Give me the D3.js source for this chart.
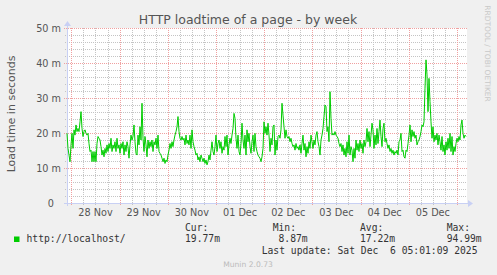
<!DOCTYPE html>
<html>
<head>
<meta charset="utf-8">
<script src="https://cdn.jsdelivr.net/npm/d3@7"></script>
<style>
  body { margin: 0; background: #f0f0f0; }
  svg { display: block; font-family: "DejaVu Sans", sans-serif; }
  .mono { font-family: "DejaVu Sans Mono", monospace; white-space: pre; }
</style>
</head>
<body>
<svg id="chart" width="497" height="275"></svg>
<script>
// ---- data ----
const dayLabels = ["28 Nov", "29 Nov", "30 Nov", "01 Dec", "02 Dec", "03 Dec", "04 Dec", "05 Dec"];
const yTickValues = [0, 10, 20, 30, 40, 50];
const yTickLabels = ["0", "10 m", "20 m", "30 m", "40 m", "50 m"];
const legendHeaders = ["Cur:", "Min:", "Avg:", "Max:"];
const legendValues = ["19.77m", " 8.87m", "17.22m", "94.99m"];
const seriesName = "http://localhost/";
const lastUpdate = "Last update: Sat Dec  6 05:01:09 2025";

// load time in milliseconds-of-a-second ("m"), one value per 30 min
const loadtime = [
  19.9,15.6,13.7,11.8,16.6,19.9,15.6,20.9,19.4,22.3,20.4,21.3,20.4,23.2,26.1,21.3,19.0,20.4,20.9,19.9,
  19.4,19.9,17.0,14.7,15.1,11.8,14.7,11.8,14.7,11.8,17.0,19.0,18.5,18.0,16.1,13.7,15.1,13.2,15.6,14.2,
  16.6,14.7,17.0,15.6,18.5,14.7,16.6,15.6,17.5,14.7,18.5,15.6,16.6,14.2,17.0,15.6,17.5,13.7,16.6,14.7,
  17.5,16.1,12.8,16.6,19.4,18.0,19.0,
  22.3,17.5,14.2,13.7,19.4,16.6,21.8,18.0,28.5,18.5,14.7,19.0,16.6,13.2,18.0,15.6,17.5,16.1,18.0,14.7,
  17.5,16.6,18.5,15.6,19.4,14.7,14.2,13.7,12.8,11.8,12.8,11.3,12.3,11.8,13.7,15.1,17.0,15.6,17.5,16.1,
  18.0,19.4,20.4,21.8,24.7,20.4,18.5,18.0,19.0,18.0,18.5,16.6,19.4,17.0,18.0,16.6,19.4,15.6,20.9,17.5,
  16.1,15.1,13.7,14.2,12.3,13.2,11.8,
  13.7,12.8,11.8,12.8,11.3,12.3,10.9,11.8,13.7,12.3,15.1,17.5,14.7,13.7,16.1,19.4,14.7,17.0,18.0,15.6,
  17.5,14.2,16.1,15.1,19.0,16.1,19.4,13.7,16.6,18.5,17.0,19.4,21.3,25.6,24.2,18.5,15.6,19.4,14.7,13.7,
  17.0,22.8,18.0,15.6,19.4,13.7,20.9,17.5,19.9,16.1,14.2,17.5,19.4,14.7,19.9,16.1,14.7,13.7,13.2,12.8,
  11.8,13.2,15.6,23.2,19.9,21.8,19.4,
  22.8,19.4,14.7,18.5,16.6,21.8,22.3,13.7,18.0,15.1,19.0,19.4,18.5,20.9,28.5,25.1,21.8,18.5,20.9,19.0,
  18.5,19.0,17.5,18.5,17.0,16.1,16.6,15.1,17.0,15.6,16.1,15.1,16.6,14.2,17.0,19.4,15.1,17.0,13.2,16.1,
  14.2,17.5,15.6,19.4,17.5,15.6,18.0,16.6,19.4,20.4,17.5,16.1,13.7,18.0,19.4,21.3,24.7,28.0,27.5,20.4,
  21.8,17.5,31.8,24.2,19.4,19.9,19.4,
  20.4,19.4,19.0,18.5,17.0,16.1,17.0,14.7,16.6,13.7,15.6,13.2,17.5,14.2,19.4,13.7,16.1,15.1,11.8,15.6,
  12.8,18.0,15.1,17.0,14.7,18.0,15.6,17.0,14.2,18.0,16.1,17.5,21.3,17.5,20.4,16.1,19.4,22.8,20.9,15.6,
  19.4,16.6,21.3,17.0,20.4,23.7,19.0,16.1,21.3,22.8,17.5,18.5,17.0,15.6,16.6,14.7,15.6,14.2,15.1,13.7,
  14.7,14.2,15.1,13.7,17.5,18.0,19.9,
  14.7,15.1,13.2,12.8,15.1,14.7,17.0,19.4,22.3,17.5,20.9,19.0,20.4,18.5,19.4,16.6,17.5,18.0,19.0,20.4,
  22.3,21.8,23.2,32.8,40.9,36.6,26.1,35.6,29.0,23.2,18.5,21.8,17.5,19.4,18.0,19.9,16.6,19.4,17.5,15.1,
  19.0,14.7,16.6,13.7,17.5,15.1,18.5,15.6,19.9,14.7,19.0,13.7,16.1,14.7,17.0,18.5,17.5,19.0,18.0,22.3,
  23.7,19.9,18.5,19.4,19.0
];

// ---- layout ----
const plot = { left: 67, right: 467, top: 28, bottom: 203 };
const textColor = "#555";
const legendColor = "#333";
const axisColor = "#c8d0f4";
const minorColor = "#c4c4c4";
const majorColor = "#f0a0a0";

const endTime = new Date(2025, 11, 6, 5, 1, 9);
const spanMs = 199.2 * 3600 * 1000;
const startTime = new Date(endTime - spanMs);
const step = spanMs / 400;
const points = loadtime.map((v, i) => ({ t: new Date(+startTime + i * step), v }));

const x = d3.scaleTime().domain([startTime, endTime]).range([plot.left, plot.right]);
const y = d3.scaleLinear().domain([0, 50]).range([plot.bottom, plot.top]);
const px = (v) => Math.round(v) + 0.5;

const svg = d3.select("#chart");

svg.append("rect")
  .attr("x", plot.left).attr("y", plot.top)
  .attr("width", plot.right - plot.left).attr("height", plot.bottom - plot.top)
  .attr("fill", "#fff");

const grid = svg.append("g").attr("shape-rendering", "crispEdges");

// minor grid
const sixHours = d3.timeHour.every(6).range(startTime, endTime).filter((d) => d.getHours() !== 0);
grid.selectAll(".vminor").data(sixHours).enter().append("line")
  .attr("x1", (d) => px(x(d))).attr("x2", (d) => px(x(d)))
  .attr("y1", plot.top).attr("y2", plot.bottom + 2)
  .attr("stroke", minorColor).attr("stroke-dasharray", "1,1");
const yMinor = d3.range(2, 50, 2).filter((d) => d % 10 !== 0);
grid.selectAll(".hminor").data(yMinor).enter().append("line")
  .attr("x1", plot.left - 2).attr("x2", plot.right)
  .attr("y1", (d) => px(y(d))).attr("y2", (d) => px(y(d)))
  .attr("stroke", minorColor).attr("stroke-dasharray", "1,1");

// major grid
const days = d3.timeDay.range(startTime, endTime);
grid.selectAll(".vmajor").data(days).enter().append("line")
  .attr("x1", (d) => px(x(d))).attr("x2", (d) => px(x(d)))
  .attr("y1", plot.top).attr("y2", plot.bottom + 3)
  .attr("stroke", majorColor).attr("stroke-dasharray", "1,1");
grid.selectAll(".hmajor").data(yTickValues.filter((d) => d > 0)).enter().append("line")
  .attr("x1", plot.left - 3).attr("x2", plot.right)
  .attr("y1", (d) => px(y(d))).attr("y2", (d) => px(y(d)))
  .attr("stroke", majorColor).attr("stroke-dasharray", "1,1");

// axes
const axes = svg.append("g").attr("shape-rendering", "crispEdges");
axes.append("line")
  .attr("x1", plot.left - 3).attr("x2", plot.right + 2)
  .attr("y1", px(y(0))).attr("y2", px(y(0)))
  .attr("stroke", axisColor);
axes.append("line")
  .attr("x1", px(plot.left)).attr("x2", px(plot.left))
  .attr("y1", plot.bottom + 3).attr("y2", plot.top - 3)
  .attr("stroke", axisColor);
svg.append("path")
  .attr("d", `M${plot.right + 1},${y(0) - 3} L${plot.right + 6},${y(0) + 0.5} L${plot.right + 1},${y(0) + 4} Z`)
  .attr("fill", axisColor);
svg.append("path")
  .attr("d", `M${plot.left - 3},${plot.top - 2} L${plot.left + 0.5},${plot.top - 7} L${plot.left + 4},${plot.top - 2} Z`)
  .attr("fill", axisColor);

// data line
const line = d3.line().x((d) => x(d.t)).y((d) => y(d.v));
svg.append("path")
  .datum(points)
  .attr("d", line)
  .attr("fill", "none")
  .attr("stroke", "#00cc00")
  .attr("stroke-width", 1)
  .attr("stroke-linejoin", "round");

// y tick labels
svg.selectAll(".ylab").data(yTickValues).enter().append("text")
  .attr("x", (d) => (d === 0 ? 54 : 61))
  .attr("y", (d) => y(d) + 3.5)
  .attr("text-anchor", "end")
  .attr("font-size", "9.7px")
  .attr("fill", textColor)
  .text((d, i) => yTickLabels[i]);

// x labels at noon
const noons = days.map((d) => d3.timeHour.offset(d, 12));
svg.selectAll(".xlab").data(dayLabels).enter().append("text")
  .attr("x", (d, i) => x(noons[i]))
  .attr("y", 215.5)
  .attr("text-anchor", "middle")
  .attr("font-size", "9.7px")
  .attr("fill", textColor)
  .text((d) => d);

// title and axis title
svg.append("text")
  .attr("x", 248).attr("y", 23.5)
  .attr("text-anchor", "middle")
  .attr("font-size", "12.5px")
  .attr("fill", textColor)
  .text("HTTP loadtime of a page - by week");

svg.append("text")
  .attr("transform", "translate(15,114) rotate(-90)")
  .attr("text-anchor", "middle")
  .attr("font-size", "11px")
  .attr("fill", textColor)
  .text("Load time in seconds");

svg.append("text")
  .attr("transform", "translate(485,53.5) rotate(90)")
  .attr("text-anchor", "middle")
  .attr("font-size", "7.5px")
  .attr("fill", "#c8c8c8")
  .text("RRDTOOL / TOBI OETIKER");

// legend
svg.append("rect")
  .attr("x", 14).attr("y", 236.5).attr("width", 5.5).attr("height", 5.5)
  .attr("fill", "#00cc00");
svg.append("text").attr("class", "mono")
  .attr("x", 26.5).attr("y", 241.7)
  .attr("font-size", "9.7px").attr("fill", legendColor)
  .text(seriesName);

const colX = [185, 272.7, 360, 446.7];
svg.selectAll(".lhead").data(legendHeaders).enter().append("text")
  .attr("class", "mono")
  .attr("x", (d, i) => colX[i]).attr("y", 230.7)
  .attr("font-size", "9.7px").attr("fill", legendColor)
  .text((d) => d);
svg.selectAll(".lval").data(legendValues).enter().append("text")
  .attr("class", "mono")
  .attr("x", (d, i) => colX[i]).attr("y", 241.7)
  .attr("font-size", "9.7px").attr("fill", legendColor)
  .text((d) => d);

svg.append("text").attr("class", "mono")
  .attr("x", 261.7).attr("y", 254.3)
  .attr("font-size", "9.7px").attr("fill", legendColor)
  .text(lastUpdate);

svg.append("text")
  .attr("x", 248).attr("y", 266.5)
  .attr("text-anchor", "middle")
  .attr("font-size", "7.6px")
  .attr("fill", "#bbbbbb")
  .text("Munin 2.0.73");
</script>
</body>
</html>
